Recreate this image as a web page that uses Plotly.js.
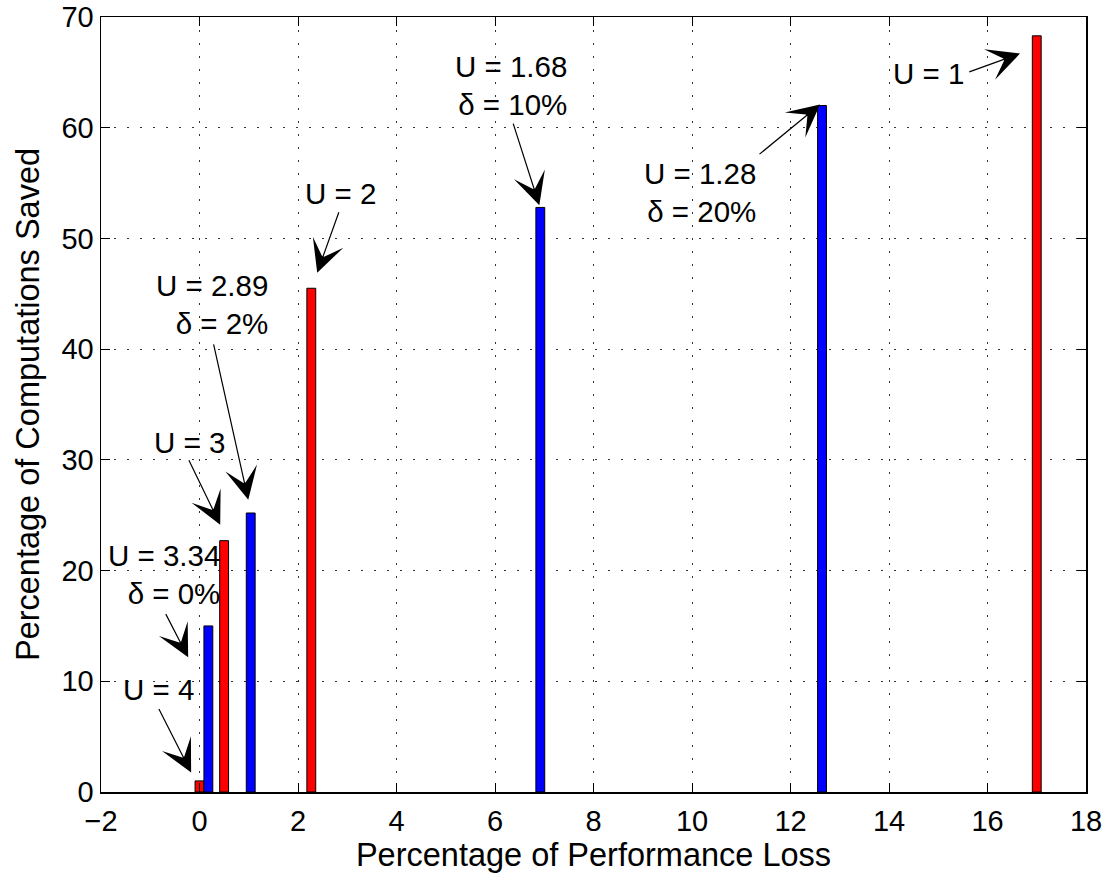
<!DOCTYPE html>
<html>
<head>
<meta charset="utf-8">
<script src="https://cdn.plot.ly/plotly-3.0.1.min.js"></script>
<style>html,body{margin:0;padding:0;background:#fff;}#chart{width:1112px;height:880px;}</style>
</head>
<body>
<div id="chart"></div>
<script>
// Data
const uLoss = [0.0, 0.5, 2.27, 17.0];
const uSaved = [1.0, 22.7, 45.5, 68.3];
const deltaLoss = [0.18, 1.04, 6.92, 12.64];
const deltaSaved = [15.0, 25.2, 52.8, 62.0];

const labelTexts = ['U = 4', 'U = 3.34<br>δ = 0%', 'U = 3', 'U = 2.89<br>δ = 2%', 'U = 2',
                    'U = 1.68<br>δ = 10%', 'U = 1.28<br>δ = 20%', 'U = 1'];

// annotation layout: text position, anchor, arrow tail, arrow head
const labelPos = [
  {tx: -0.84, ty: 9.25, anchor: 'center', tail: [-0.84, 7.63], head: [-0.17, 1.76]},
  {tx: 0.46, ty: 19.63, anchor: 'right', tail: [-0.70, 16.2], head: [-0.23, 12.16]},
  {tx: -0.21, ty: 31.54, anchor: 'center', tail: [-0.23, 30.1], head: [0.42, 24.14]},
  {tx: 1.44, ty: 44.0, anchor: 'right', tail: [0.28, 40.57], head: [0.99, 26.4]},
  {tx: 2.86, ty: 54.1, anchor: 'center', tail: [2.84, 52.5], head: [2.39, 46.9]},
  {tx: 7.51, ty: 63.85, anchor: 'right', tail: [6.36, 60.5], head: [6.90, 53.0]},
  {tx: 11.34, ty: 54.15, anchor: 'right', tail: [11.34, 57.5], head: [12.6, 62.1]},
  {tx: 14.81, ty: 64.94, anchor: 'center', tail: [15.6, 65.0], head: [16.66, 66.7]}
];

const FONT = 'Liberation Sans, Arial, Helvetica, sans-serif';

const traces = [
  {type: 'bar', x: uLoss, y: uSaved, width: 0.18,
   marker: {color: '#ff0000', line: {color: '#000', width: 1}}, showlegend: false, hoverinfo: 'x+y'},
  {type: 'bar', x: deltaLoss, y: deltaSaved, width: 0.18,
   marker: {color: '#0000ff', line: {color: '#000', width: 1}}, showlegend: false, hoverinfo: 'x+y'}
];

const annotations = [];
labelTexts.forEach((t, i) => {
  const p = labelPos[i];
  annotations.push({
    x: p.tx, y: p.ty, xref: 'x', yref: 'y', text: t, showarrow: false,
    xanchor: p.anchor, yanchor: 'middle', align: p.anchor === 'right' ? 'right' : 'center',
    font: {family: FONT, size: 29.5, color: '#000'}
  });
  annotations.push({
    x: p.head[0], y: p.head[1], xref: 'x', yref: 'y',
    ax: p.tail[0], ay: p.tail[1], axref: 'x', ayref: 'y',
    text: '', showarrow: true, arrowhead: 3, arrowsize: 4.5, arrowwidth: 1.2,
    arrowcolor: '#000', standoff: 0, startstandoff: 0
  });
});

const axisCommon = {
  showline: true, linecolor: '#000', linewidth: 1.5, mirror: 'ticks',
  ticks: 'inside', ticklen: 9, tickcolor: '#000', tickwidth: 1,
  showgrid: true, gridcolor: '#333', gridwidth: 1, griddash: '2px,11px',
  zeroline: false, tickfont: {family: FONT, size: 29, color: '#000'}
};

const layout = {
  width: 1112, height: 880,
  margin: {l: 101, r: 26, t: 17, b: 88},
  paper_bgcolor: '#fff', plot_bgcolor: '#fff',
  barmode: 'overlay', bargap: 0,
  font: {family: FONT, color: '#000'},
  xaxis: Object.assign({}, axisCommon, {
    range: [-2, 18], dtick: 2, tick0: 0, ticklabelstandoff: 3,
    title: {text: 'Percentage of Performance Loss', font: {family: FONT, size: 32.5, color: '#000'}, standoff: 3}
  }),
  yaxis: Object.assign({}, axisCommon, {
    range: [0, 70], dtick: 10, tick0: 0,
    title: {text: 'Percentage of Computations Saved', font: {family: FONT, size: 32.5, color: '#000'}, standoff: 12}
  }),
  annotations: annotations
};

Plotly.newPlot('chart', traces, layout, {displayModeBar: false, staticPlot: true});
</script>
</body>
</html>
